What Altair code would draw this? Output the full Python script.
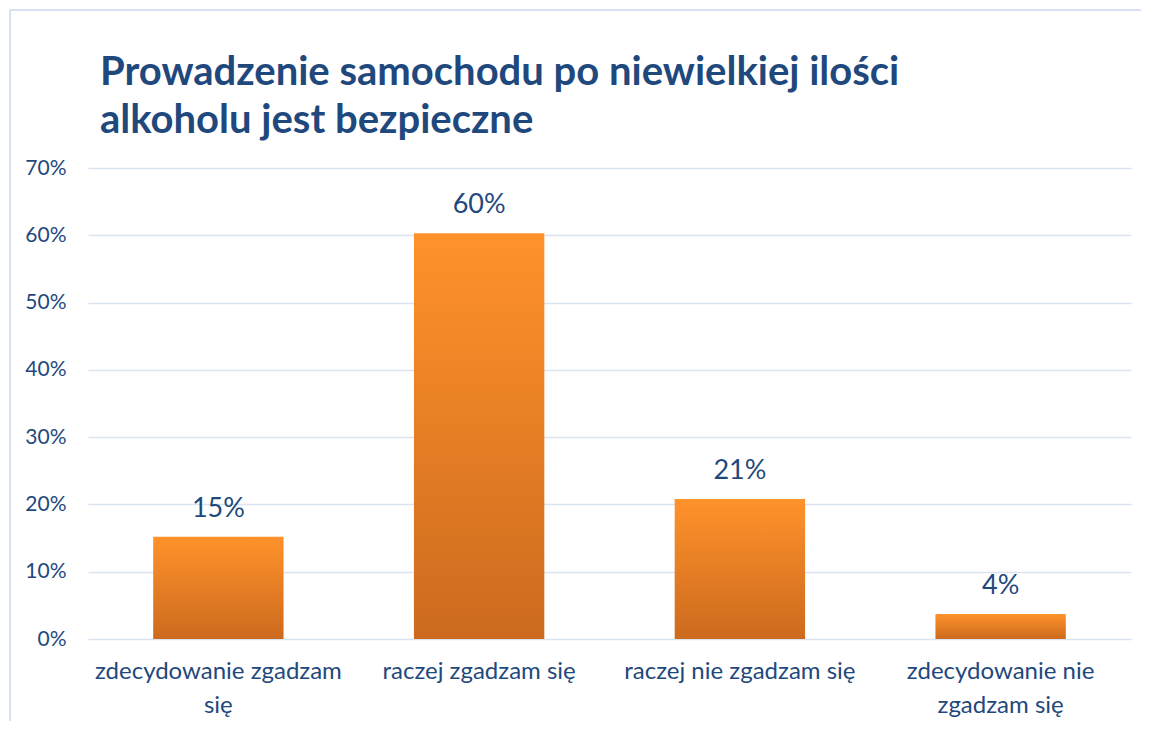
import altair as alt
import pandas as pd

categories = ["zdecydowanie zgadzam się", "raczej zgadzam się",
              "raczej nie zgadzam się", "zdecydowanie nie zgadzam się"]
wrapped = [["zdecydowanie zgadzam", "się"], ["raczej zgadzam się"],
           ["raczej nie zgadzam się"], ["zdecydowanie nie", "zgadzam się"]]
values = [0.152, 0.603, 0.208, 0.037]
y_ticks = [0, 0.1, 0.2, 0.3, 0.4, 0.5, 0.6, 0.7]
title_lines = ["Prowadzenie samochodu po niewielkiej ilości", "alkoholu jest bezpieczne"]

df = pd.DataFrame({"cat": categories, "val": values})

W, H = 1043, 471
BLUE = "#1F497D"
GRID = "#d9e3f1"

def js_arr(lines):
    return "[" + ",".join("'" + s + "'" for s in lines) + "]"

label_expr = ""
for c, w in zip(categories, wrapped):
    label_expr += f"datum.label == '{c}' ? {js_arr(w)} : "
label_expr += "datum.label"

base = alt.Chart(df).encode(
    x=alt.X("cat:N", sort=categories, title=None,
            scale=alt.Scale(paddingInner=0.5, paddingOuter=0.25),
            axis=alt.Axis(labelAngle=0, domain=False, ticks=False, labelFont="Lato",
                          labelFontSize=24, labelColor=BLUE, labelPadding=20,
                          labelLineHeight=34, labelExpr=label_expr, labelBaseline="top",
                          labelLimit=400)),
    y=alt.Y("val:Q", title=None,
            scale=alt.Scale(domain=[0, 0.7], nice=False),
            axis=alt.Axis(values=y_ticks, format=".0%", domain=False, ticks=False,
                          labelFont="Lato", labelFontSize=21, labelColor=BLUE,
                          labelPadding=22, gridColor=GRID, gridWidth=1.5)),
)

bars = base.mark_bar(color=alt.Gradient(
    gradient="linear", x1=0, x2=0, y1=0, y2=1,
    stops=[alt.GradientStop(color="#ff922b", offset=0),
           alt.GradientStop(color="#cc6a1e", offset=1)]))

texts = base.mark_text(baseline="bottom", dy=-14, fontSize=27, font="Lato", color=BLUE).encode(
    text=alt.Text("val:Q", format=".0%"))

one = alt.Data(values=[{"a": 1}])
border_left = alt.Chart(one).mark_rule(color="#d6e1f1", strokeWidth=2).encode(
    x=alt.value(-78), y=alt.value(-158), y2=alt.value(H + 90))
border_top = alt.Chart(one).mark_rule(color="#d6e1f1", strokeWidth=2).encode(
    x=alt.value(-78), x2=alt.value(W + 12), y=alt.value(-158))

title = alt.Chart(one).mark_text(
    text=title_lines, align="left", baseline="alphabetic", lineHeight=48,
    font="Lato", fontSize=40, fontWeight="bold", color=BLUE
).encode(x=alt.value(12), y=alt.value(-83))

chart = alt.layer(border_left, border_top, bars, texts, title).properties(
    width=W, height=H,
    autosize=alt.AutoSizeParams(type="none"),
    padding={"left": 80, "top": 160, "right": 10, "bottom": 82},
).configure_view(stroke=None)

chart.save("out.html", embed_options={"renderer": "svg", "actions": False})
